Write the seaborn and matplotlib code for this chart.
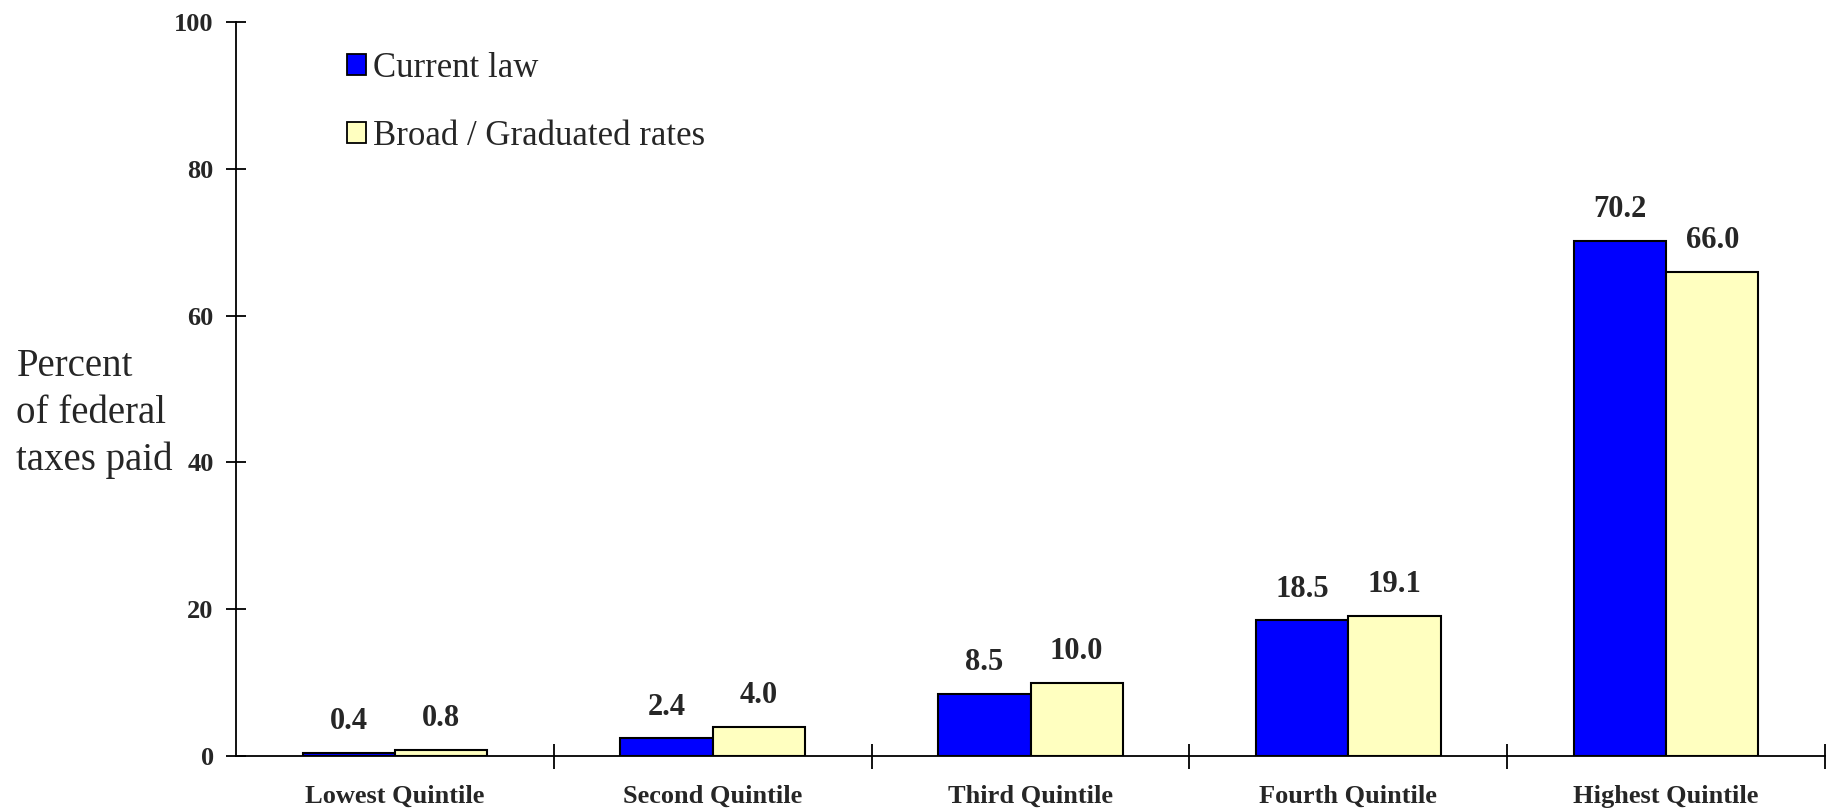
import matplotlib
matplotlib.use("Agg")
import matplotlib.pyplot as plt
import seaborn as sns
import pandas as pd
from matplotlib.patches import Patch

quintiles = ["Lowest Quintile", "Second Quintile", "Third Quintile",
             "Fourth Quintile", "Highest Quintile"]
current_law = [0.4, 2.4, 8.5, 18.5, 70.2]
broad_graduated = [0.8, 4.0, 10.0, 19.1, 66.0]
series_names = ["Current law", "Broad / Graduated rates"]
y_ticks = [0, 20, 40, 60, 80, 100]

colors = {"Current law": "#0000FF", "Broad / Graduated rates": "#FFFFC0"}

df = pd.DataFrame({
    "quintile": quintiles * 2,
    "share": current_law + broad_graduated,
    "plan": [series_names[0]] * 5 + [series_names[1]] * 5,
})

sns.set_style("white")
plt.rcParams["font.family"] = ["Liberation Serif", "DejaVu Serif"]

fig = plt.figure(figsize=(18.26, 8.09), dpi=100)
ax = fig.add_axes([0.1292, 0.0655, 0.8703, 0.9073])

sns.barplot(data=df, x="quintile", y="share", hue="plan", order=quintiles,
            hue_order=series_names, palette=colors, width=0.58, gap=0,
            edgecolor="black", linewidth=1.5, saturation=1, ax=ax,
            legend=False)

for container in ax.containers:
    ax.bar_label(container, fmt="%.1f", padding=12, fontsize=22,
                 fontweight="bold")

ax.set_xlim(-0.5, 4.5)
ax.set_ylim(0, 100)
ax.set_yticks(y_ticks)
ax.set_yticklabels([str(t) for t in y_ticks], fontsize=19, fontweight="bold")
ax.set_xticks(range(len(quintiles)))
ax.set_xticklabels(quintiles, fontsize=19, fontweight="bold")
ax.set_xticks([i + 0.5 for i in range(len(quintiles))], minor=True)
ax.tick_params(axis="x", which="major", bottom=True, length=0, pad=21)
ax.tick_params(axis="x", which="minor", bottom=True, direction="inout",
               length=18, width=1.3, color="black")
ax.tick_params(axis="y", which="major", left=True, direction="inout",
               length=14, width=1.3, color="black", pad=9)
ax.set_xlabel("")
ax.set_ylabel("")

for side in ("top", "right"):
    ax.spines[side].set_visible(False)
for side in ("left", "bottom"):
    ax.spines[side].set_color("black")
    ax.spines[side].set_linewidth(1.3)

handles = [Patch(facecolor=colors[n], edgecolor="black", linewidth=1.3)
           for n in series_names]
ax.legend(handles, series_names, loc="upper left",
          bbox_to_anchor=(0.061, 0.978), frameon=False, fontsize=25,
          handlelength=0.55, handleheight=0.55, handletextpad=0.2,
          labelspacing=1.0, borderaxespad=0)

fig.text(0.009, 0.489, "Percent\nof federal\ntaxes paid", fontsize=28,
         ha="left", va="center", linespacing=1.34)

fig.savefig("out.png", dpi=100)
